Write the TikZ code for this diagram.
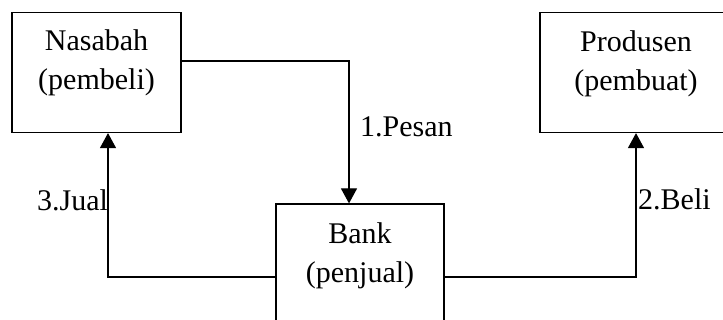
\documentclass[tikz,border=0pt]{standalone}
\usepackage{fontspec}
\setmainfont{Liberation Serif}
\usetikzlibrary{arrows.meta}
\begin{document}
\begin{tikzpicture}[x=1pt,y=-1pt,
  box/.style={draw, line width=1.2pt, rectangle, minimum width=169pt, minimum height=120pt, inner sep=0pt},
  boxtext/.style={align=center, font=\fontsize{30}{39}\selectfont, inner sep=0pt},
  lbl/.style={anchor=base west, font=\fontsize{30}{36}\selectfont, inner sep=0pt},
  conn/.style={line width=1.2pt, -{Triangle[width=16pt,length=15pt]}}]
\useasboundingbox (0,0) rectangle (723,320);
\clip (0,0) rectangle (723,320);
\node[box] (nas) at (96.5,72.5) {};
\node[boxtext] (nastext) at (96.5,62.5) {Nasabah\\(pembeli)};
\node[box, minimum width=192pt] (prod) at (636,72.5) {};
\node[boxtext] (prodtext) at (636,64) {Produsen\\(pembuat)};
\node[box, minimum width=168pt] (bank) at (360,264) {};
\node[boxtext] (banktext) at (360,256) {Bank\\(penjual)};
\draw[conn] ([yshift=11.5pt]nas.east) -| ([xshift=-11pt]bank.north);
\draw[conn] ([yshift=-13pt]bank.west) -| ([xshift=11.5pt]nas.south);
\draw[conn] ([yshift=-13pt]bank.east) -| (prod.south);
\node[lbl] (l1) at (360,137) {1.Pesan};
\node[lbl] (l3) at (37,211) {3.Jual};
\node[lbl] (l2) at (638,210) {2.Beli};
\end{tikzpicture}
\end{document}
